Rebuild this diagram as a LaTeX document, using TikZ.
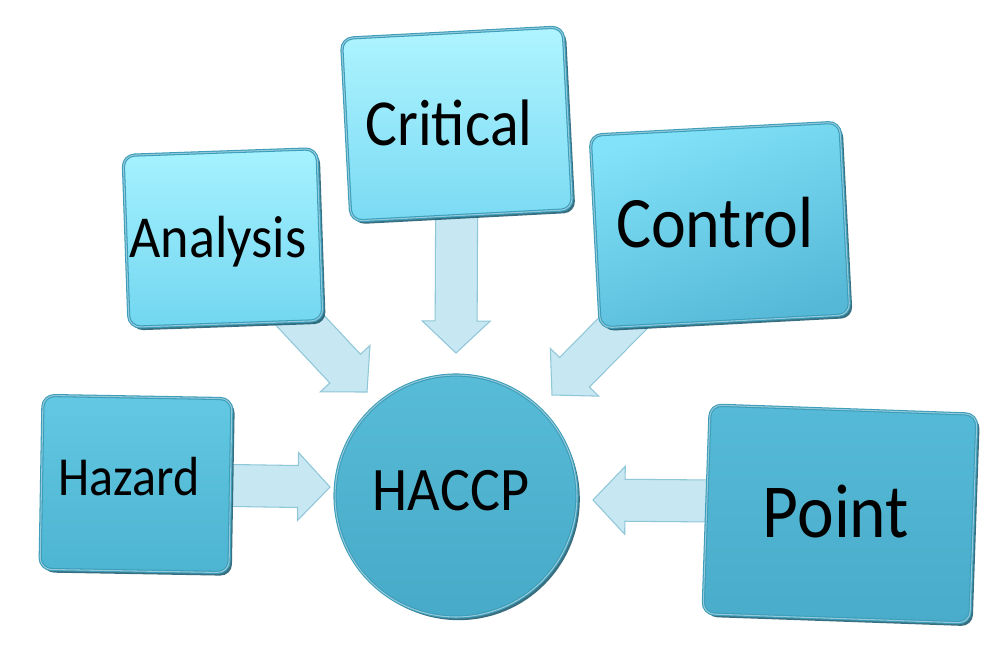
\documentclass[tikz,border=0pt]{standalone}
\usepackage{fontspec}
\setmainfont{Carlito}
\usetikzlibrary{calc,shadows}
\definecolor{bordercol}{HTML}{3B9DB9}
\definecolor{shadowcol}{HTML}{16566A}
\definecolor{hazTop}{HTML}{62C8E3}
\definecolor{hazBot}{HTML}{4DB4D1}
\definecolor{anaTop}{HTML}{A6F2FF}
\definecolor{anaBot}{HTML}{72D6F0}
\definecolor{criTop}{HTML}{AFF4FF}
\definecolor{criBot}{HTML}{7ADAF3}
\definecolor{conTop}{HTML}{82E2F9}
\definecolor{conBot}{HTML}{55B8D6}
\definecolor{pntTop}{HTML}{55BAD7}
\definecolor{pntBot}{HTML}{49ACCA}
\definecolor{cirTop}{HTML}{57BCD8}
\definecolor{cirBot}{HTML}{47AAC8}
\definecolor{arrowfill}{HTML}{C7E8F2}
\definecolor{arrowborder}{HTML}{8FC6D8}
\pgfdeclarelayer{bg}
\pgfsetlayers{bg,main}
\tikzset{
  box/.style={rounded corners=6.5pt, draw=bordercol, line width=1.8pt, inner sep=0pt,
    drop shadow={shadow xshift=1.6pt, shadow yshift=-1.8pt, fill=shadowcol, opacity=0.85},
    postaction={draw=white, draw opacity=0.45, line width=0.6pt}},
  disc/.style={circle, draw=bordercol, line width=1.8pt, inner sep=0pt,
    drop shadow={shadow xshift=1.6pt, shadow yshift=-1.8pt, fill=shadowcol, opacity=0.85},
    postaction={draw=white, draw opacity=0.45, line width=0.6pt}},
  lbl/.style={anchor=base, text=black, inner sep=0pt},
  blk/.style={fill=arrowfill, draw=arrowborder, line width=0.6pt, line join=miter},
}
\newcommand{\tallt}[1]{\scalebox{1}[1.1]{#1}}
\newcommand{\blkarrow}[2]{%
  \coordinate (#1#2h) at ($(#2)!0.64cm!(#1)$);
  \draw[blk] ($(#1)!0.42cm!90:(#2)$) -- ($(#1#2h)!0.42cm!90:(#2)$) -- ($(#1#2h)!0.68cm!90:(#2)$) -- (#2)
    -- ($(#1#2h)!0.68cm!-90:(#2)$) -- ($(#1#2h)!0.42cm!-90:(#2)$) -- ($(#1)!0.42cm!-90:(#2)$) -- cycle;}
\begin{document}
\begin{tikzpicture}[x=0.02cm,y=-0.02cm]
\useasboundingbox (0,0) rectangle (1000,667);
% boxes
\node[box, top color=hazTop, bottom color=hazBot, minimum width=3.78cm, minimum height=3.48cm, rotate=-1] (haz) at (136,484) {};
\node[box, top color=anaTop, bottom color=anaBot, minimum width=3.88cm, minimum height=3.44cm, rotate=2] (ana) at (223,238) {};
\node[box, top color=criTop, bottom color=criBot, minimum width=4.44cm, minimum height=3.66cm, rotate=3] (cri) at (457,124) {};
\node[box, top color=conTop, bottom color=conBot, shading angle=20, minimum width=5.0cm, minimum height=3.86cm, rotate=3] (con) at (720,225) {};
\node[box, top color=pntTop, bottom color=pntBot, minimum width=5.34cm, minimum height=4.18cm, rotate=-2] (pnt) at (840,514) {};
\node[disc, top color=cirTop, bottom color=cirBot, minimum size=4.84cm] (hac) at (456,496) {};
% labels
\node[lbl, font=\fontsize{28.5}{32}\selectfont] (hazl) at (129,495) {\tallt{Hazard}};
\node[lbl, font=\fontsize{30.8}{34}\selectfont] (anal) at (218,257) {\tallt{Analysis}};
\node[lbl, font=\fontsize{34}{38}\selectfont] (cril) at (449,145) {\tallt{Critical}};
\node[lbl, font=\fontsize{37.5}{41}\selectfont] (conl) at (715,247) {\tallt{Control}};
\node[lbl, font=\fontsize{39.5}{43}\selectfont] (pntl) at (836,537) {\tallt{Point}};
\node[lbl, font=\fontsize{32}{35}\selectfont] (hacl) at (451,510) {\tallt{HACCP}};
% arrow ends
\coordinate (hazTip) at (330,487);
\coordinate (anaTip) at (367,392);
\coordinate (criTip) at (456,353);
\coordinate (conTip) at (552,395);
\coordinate (pntTip) at (593,500);
\coordinate (pntS) at ($(pnt.center)+(0,-12)$);
\begin{pgfonlayer}{bg}
\blkarrow{haz}{hazTip}
\blkarrow{ana}{anaTip}
\blkarrow{cri}{criTip}
\blkarrow{con}{conTip}
\blkarrow{pntS}{pntTip}
\end{pgfonlayer}
\end{tikzpicture}
\end{document}
